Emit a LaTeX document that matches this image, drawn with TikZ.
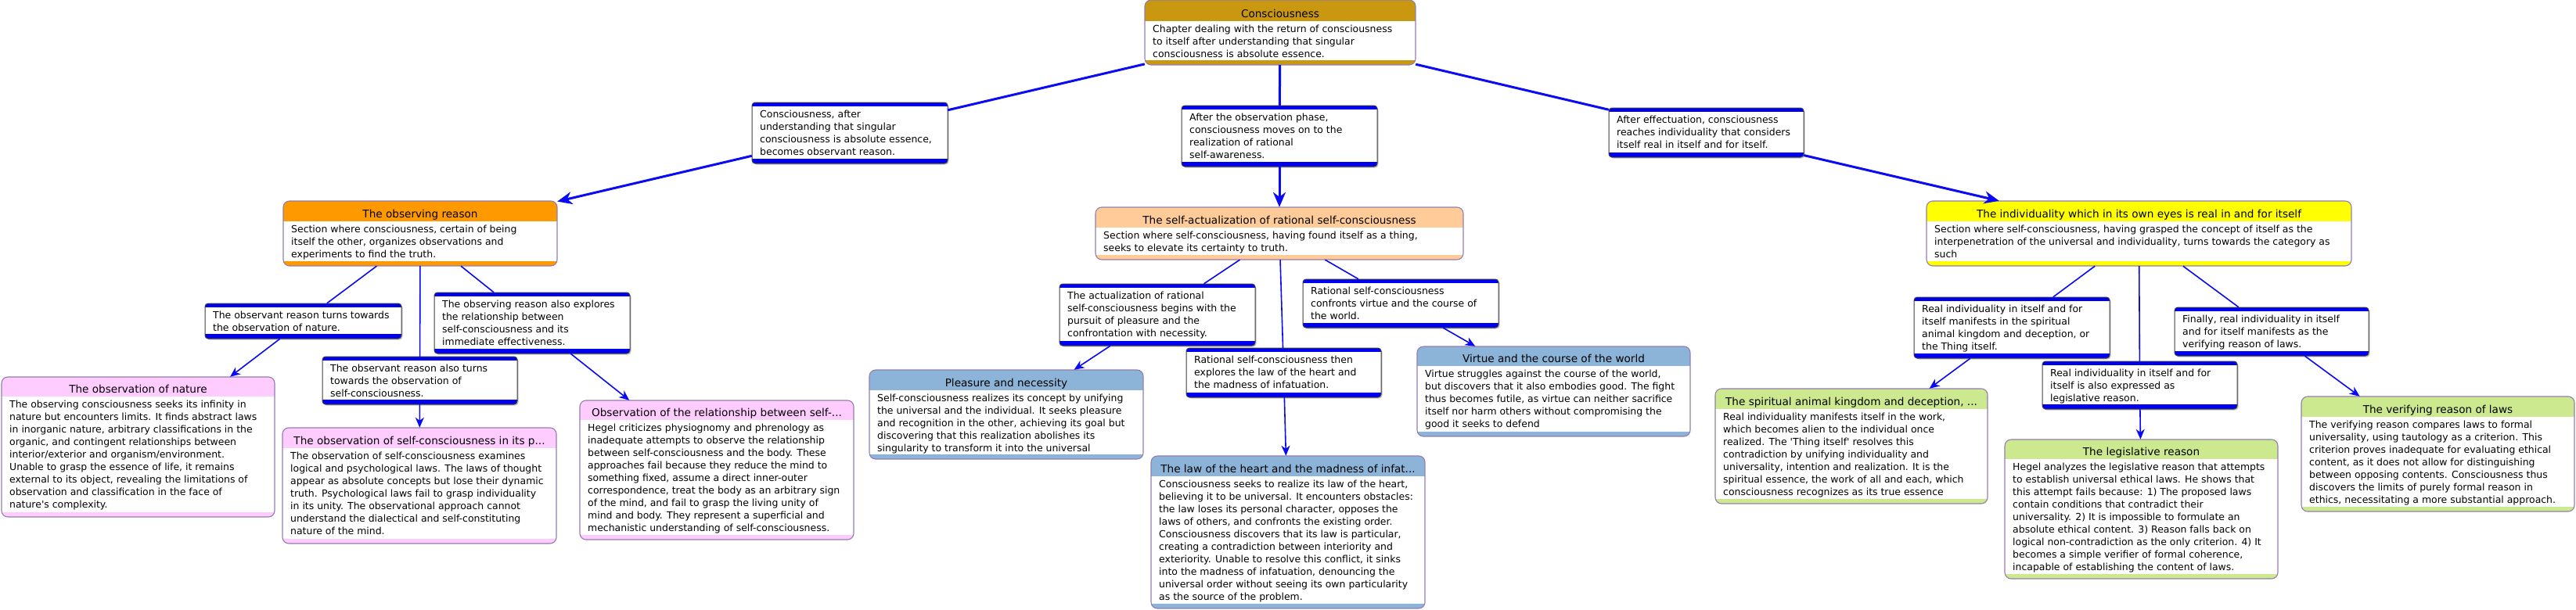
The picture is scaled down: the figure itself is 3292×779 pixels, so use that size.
\documentclass[tikz,border=0pt]{standalone}
\usepackage{fontspec}
\newfontfamily\dvs{DejaVu Sans}
\usetikzlibrary{fit,arrows.meta}
\definecolor{cgold}{RGB}{201,152,16}
\definecolor{corange}{RGB}{255,153,0}
\definecolor{cpeach}{RGB}{255,204,153}
\definecolor{cyellow}{RGB}{255,255,0}
\definecolor{cpink}{RGB}{255,204,255}
\definecolor{csteel}{RGB}{140,180,217}
\definecolor{cgreen}{RGB}{205,233,143}
\definecolor{cborder}{RGB}{145,125,175}
\definecolor{cline}{RGB}{10,10,245}
\definecolor{cbar}{RGB}{0,0,240}
\definecolor{clinkborder}{RGB}{60,60,60}
% #1 name, #2 x1, #3 y1, #4 x2, #5 y2, #6 header bottom, #7 colour, #8 title, #9 body
\newcommand{\topicnode}[9]{%
  \begin{scope}
    \clip[rounded corners=8pt] (#2,#3) rectangle (#4,#5);
    \fill[white] (#2,#3) rectangle (#4,#5);
    \fill[#7] (#2,#3) rectangle (#4,#6);
    \fill[#7] (#2,#5-6) rectangle (#4,#5);
  \end{scope}
  \draw[topicborder, rounded corners=8pt] (#2,#3) rectangle (#4,#5);
  \node[fit={(#2,#3) (#4,#5)}, inner sep=0pt] (#1) {};
  \node[titletext] at ({(#2+#4)/2},#6-4.5) {#8};
  \node[bodytext] at (#2+10,#6+4) {\rule{0pt}{10pt}#9};
}
% #1 name, #2 x1, #3 y1, #4 x2, #5 y2, #6 text
\newcommand{\linknode}[6]{%
  \fill[gray!45, rounded corners=4pt] (#2+1.5,#3+1.5) rectangle (#4+1.5,#5+1.5);
  \begin{scope}
    \clip[rounded corners=4pt] (#2,#3) rectangle (#4,#5);
    \fill[white] (#2,#3) rectangle (#4,#5);
    \fill[cbar] (#2,#3) rectangle (#4,#3+5);
    \fill[cbar] (#2,#5-6) rectangle (#4,#5);
  \end{scope}
  \draw[draw=clinkborder, line width=1pt, rounded corners=4pt] (#2,#3) rectangle (#4,#5);
  \node[fit={(#2,#3) (#4,#5)}, inner sep=0pt] (#1) {};
  \node[bodytext] at (#2+10,#3+9.5) {\rule{0pt}{10pt}#6};
}
\begin{document}
\begin{tikzpicture}[x=1pt,y=-1pt,
  topicborder/.style={draw=cborder, line width=1.1pt},
  titletext/.style={anchor=base, inner sep=0pt, font=\dvs\fontsize{13.6pt}{16pt}\selectfont},
  bodytext/.style={anchor=north west, align=left, inner sep=0pt, font=\dvs\fontsize{12.45pt}{16pt}\selectfont},
  conn/.style={draw=cline, line width=1.6pt},
  connarrow/.style={conn, -{Stealth[length=13pt,width=11pt,inset=4pt]}},
  bigconn/.style={draw=cline, line width=3pt},
  bigarrow/.style={bigconn, -{Stealth[length=19pt,width=16pt,inset=6pt]}}
]
\fill[white] (0,0) rectangle (3292,779);
\useasboundingbox (0,0) rectangle (3292,779);

% ---------- topics ----------
\topicnode{root}{1463}{0}{1809}{83}{27}{cgold}{Consciousness}{Chapter dealing with the return of consciousness\\to itself after understanding that singular\\consciousness is absolute essence.}

\topicnode{obs}{362}{257}{712}{340}{283}{corange}{The observing reason}{Section where consciousness, certain of being\\itself the other, organizes observations and\\experiments to find the truth.}

\topicnode{sa}{1400}{265}{1870}{332}{291}{cpeach}{The self-actualization of rational self-consciousness}{Section where self-consciousness, having found itself as a thing,\\seeks to elevate its certainty to truth.}

\topicnode{ind}{2462}{257}{3005}{340}{283}{cyellow}{The individuality which in its own eyes is real in and for itself}{Section where self-consciousness, having grasped the concept of itself as the\\interpenetration of the universal and individuality, turns towards the category as\\such}

\topicnode{nat}{2}{482}{351}{661}{507}{cpink}{The observation of nature}{The observing consciousness seeks its infinity in\\nature but encounters limits. It finds abstract laws\\in inorganic nature, arbitrary classifications in the\\organic, and contingent relationships between\\interior/exterior and organism/environment.\\Unable to grasp the essence of life, it remains\\external to its object, revealing the limitations of\\observation and classification in the face of\\nature's complexity.}

\topicnode{sc}{361}{547}{711}{695}{573}{cpink}{The observation of self-consciousness in its p...}{The observation of self-consciousness examines\\logical and psychological laws. The laws of thought\\appear as absolute concepts but lose their dynamic\\truth. Psychological laws fail to grasp individuality\\in its unity. The observational approach cannot\\understand the dialectical and self-constituting\\nature of the mind.}

\topicnode{rel}{741}{512}{1091}{690}{537}{cpink}{Observation of the relationship between self-...}{Hegel criticizes physiognomy and phrenology as\\inadequate attempts to observe the relationship\\between self-consciousness and the body. These\\approaches fail because they reduce the mind to\\something fixed, assume a direct inner-outer\\correspondence, treat the body as an arbitrary sign\\of the mind, and fail to grasp the living unity of\\mind and body. They represent a superficial and\\mechanistic understanding of self-consciousness.}

\topicnode{ple}{1111}{473}{1461}{587}{499}{csteel}{Pleasure and necessity}{Self-consciousness realizes its concept by unifying\\the universal and the individual. It seeks pleasure\\and recognition in the other, achieving its goal but\\discovering that this realization abolishes its\\singularity to transform it into the universal}

\topicnode{law}{1471}{583}{1821}{778}{609}{csteel}{The law of the heart and the madness of infat...}{Consciousness seeks to realize its law of the heart,\\believing it to be universal. It encounters obstacles:\\the law loses its personal character, opposes the\\laws of others, and confronts the existing order.\\Consciousness discovers that its law is particular,\\creating a contradiction between interiority and\\exteriority. Unable to resolve this conflict, it sinks\\into the madness of infatuation, denouncing the\\universal order without seeing its own particularity\\as the source of the problem.}

\topicnode{vir}{1811}{443}{2160}{558}{468}{csteel}{Virtue and the course of the world}{Virtue struggles against the course of the world,\\but discovers that it also embodies good. The fight\\thus becomes futile, as virtue can neither sacrifice\\itself nor harm others without compromising the\\good it seeks to defend}

\topicnode{spi}{2192}{497}{2540}{644}{523}{cgreen}{The spiritual animal kingdom and deception, ...}{Real individuality manifests itself in the work,\\which becomes alien to the individual once\\realized. The 'Thing itself' resolves this\\contradiction by unifying individuality and\\universality, intention and realization. It is the\\spiritual essence, the work of all and each, which\\consciousness recognizes as its true essence}

\topicnode{leg}{2562}{562}{2911}{740}{587}{cgreen}{The legislative reason}{Hegel analyzes the legislative reason that attempts\\to establish universal ethical laws. He shows that\\this attempt fails because: 1) The proposed laws\\contain conditions that contradict their\\universality. 2) It is impossible to formulate an\\absolute ethical content. 3) Reason falls back on\\logical non-contradiction as the only criterion. 4) It\\becomes a simple verifier of formal coherence,\\incapable of establishing the content of laws.}

\topicnode{ver}{2941}{507}{3290}{654}{533}{cgreen}{The verifying reason of laws}{The verifying reason compares laws to formal\\universality, using tautology as a criterion. This\\criterion proves inadequate for evaluating ethical\\content, as it does not allow for distinguishing\\between opposing contents. Consciousness thus\\discovers the limits of purely formal reason in\\ethics, necessitating a more substantial approach.}

% ---------- links ----------
\linknode{lA}{961}{131}{1211}{209}{Consciousness, after\\understanding that singular\\consciousness is absolute essence,\\becomes observant reason.}
\linknode{lB}{1510}{135}{1760}{213}{After the observation phase,\\consciousness moves on to the\\realization of rational\\self-awareness.}
\linknode{lC}{2056}{138}{2305}{201}{After effectuation, consciousness\\reaches individuality that considers\\itself real in itself and for itself.}

\linknode{lN}{262}{388}{513}{433}{The observant reason turns towards\\the observation of nature.}
\linknode{lS}{412}{456}{661}{517}{The observant reason also turns\\towards the observation of\\self-consciousness.}
\linknode{lE}{555}{374}{805}{452}{The observing reason also explores\\the relationship between\\self-consciousness and its\\immediate effectiveness.}

\linknode{lP}{1354}{363}{1604}{442}{The actualization of rational\\self-consciousness begins with the\\pursuit of pleasure and the\\confrontation with necessity.}
\linknode{lH}{1516}{445}{1765}{508}{Rational self-consciousness then\\explores the law of the heart and\\the madness of infatuation.}
\linknode{lV}{1665}{357}{1915}{419}{Rational self-consciousness\\confronts virtue and the course of\\the world.}

\linknode{lSp}{2446}{380}{2696}{458}{Real individuality in itself and for\\itself manifests in the spiritual\\animal kingdom and deception, or\\the Thing itself.}
\linknode{lL}{2610}{462}{2859}{523}{Real individuality in itself and for\\itself is also expressed as\\legislative reason.}
\linknode{lF}{2779}{393}{3027}{455}{Finally, real individuality in itself\\and for itself manifests as the\\verifying reason of laws.}

% ---------- connectors ----------
\draw[bigconn] (root) -- (lA);
\draw[bigarrow] (lA) -- (obs);
\draw[bigconn] (root) -- (lB);
\draw[bigarrow] (lB) -- (sa);
\draw[bigconn] (root) -- (lC);
\draw[bigarrow] (lC) -- (ind);

\draw[conn] (obs) -- (lN);
\draw[connarrow] (lN) -- (nat);
\draw[conn] (obs) -- (lS);
\draw[connarrow] (lS) -- (sc);
\draw[conn] (obs) -- (lE);
\draw[connarrow] (lE) -- (rel);

\draw[conn] (sa) -- (lP);
\draw[connarrow] (lP) -- (ple);
\draw[conn] (sa) -- (lH);
\draw[connarrow] (lH) -- (law);
\draw[conn] (sa) -- (lV);
\draw[connarrow] (lV) -- (vir);

\draw[conn] (ind) -- (lSp);
\draw[connarrow] (lSp) -- (spi);
\draw[conn] (ind) -- (lL);
\draw[connarrow] (lL) -- (leg);
\draw[conn] (ind) -- (lF);
\draw[connarrow] (lF) -- (ver);
\end{tikzpicture}
\end{document}
